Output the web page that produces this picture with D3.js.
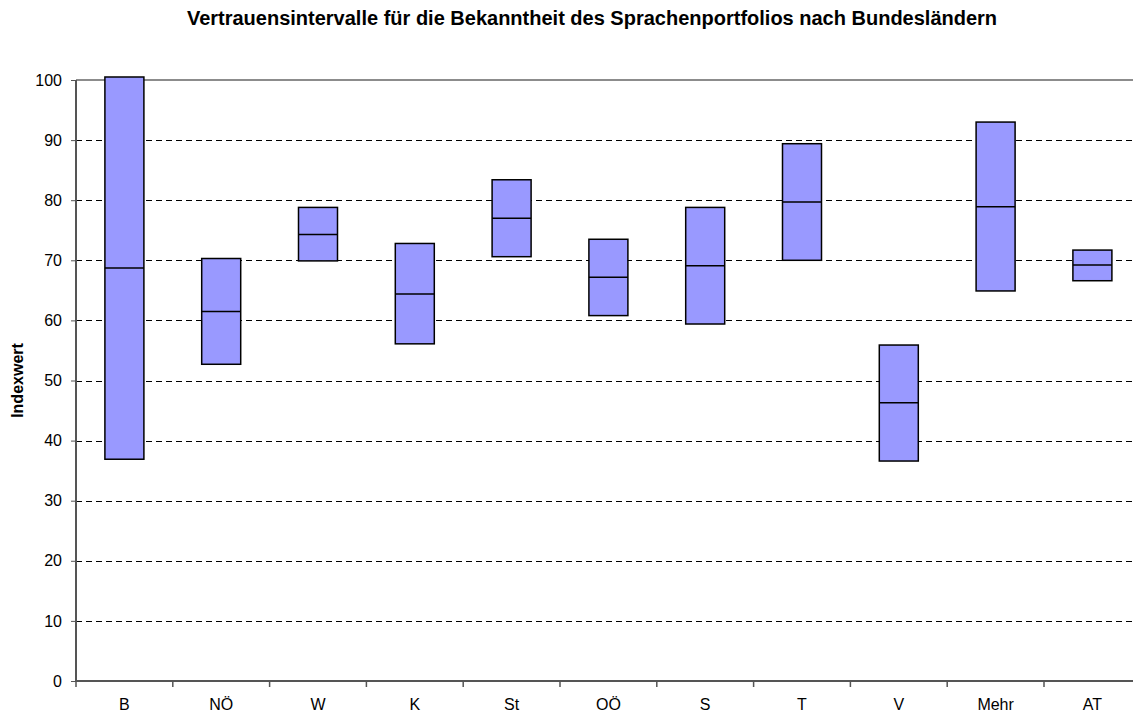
<!DOCTYPE html>
<html>
<head>
<meta charset="utf-8">
<script src="https://cdn.jsdelivr.net/npm/d3@7"></script>
<style>
  html, body { margin: 0; padding: 0; background: #fff; }
  svg { display: block; font-family: "Liberation Sans", Arial, sans-serif; }
</style>
</head>
<body>
<svg id="chart" width="1133" height="713"></svg>
<script>
const categories = ["B", "NÖ", "W", "K", "St", "OÖ", "S", "T", "V", "Mehr", "AT"];
const upper  = [100.5, 70.3, 78.8, 72.8, 83.4, 73.5, 78.8, 89.4, 55.9, 93.0, 71.7];
const middle = [68.7, 61.5, 74.3, 64.4, 77.0, 67.2, 69.1, 79.7, 46.3, 78.9, 69.2];
const lower  = [36.9, 52.7, 69.9, 56.1, 70.6, 60.8, 59.4, 70.0, 36.6, 64.9, 66.6];
const yTicks = [0, 10, 20, 30, 40, 50, 60, 70, 80, 90, 100];
const title = "Vertrauensintervalle für die Bekanntheit des Sprachenportfolios nach Bundesländern";
const yTitle = "Indexwert";

(function () {
const svg = d3.select("#chart");
const mLeft = 76, mTop = 80, mBottom = 681, bandW = 96.8;
const mRight = mLeft + categories.length * bandW;

const x = d3.scaleBand().domain(categories).range([mLeft, mRight]).paddingInner(0).paddingOuter(0);
const y = d3.scaleLinear().domain([0, 100]).range([mBottom, mTop]);

// title
svg.append("text").attr("x", 592).attr("y", 25).attr("text-anchor", "middle")
  .attr("font-size", 20).attr("font-weight", "bold").text(title);

// gridlines
svg.append("g").selectAll("line").data(yTicks.filter(d => d > 0 && d < 100)).join("line")
  .attr("x1", mLeft).attr("x2", 1133)
  .attr("y1", d => Math.round(y(d)) + 0.5).attr("y2", d => Math.round(y(d)) + 0.5)
  .attr("stroke", "#000").attr("stroke-width", 1).attr("stroke-dasharray", "6,4");
svg.append("line").attr("x1", mLeft).attr("x2", 1133)
  .attr("y1", y(100)).attr("y2", y(100))
  .attr("stroke", "#8c8c8c").attr("stroke-width", 2);

// y axis
const yAxis = d3.axisLeft(y).tickValues(yTicks).tickSize(5).tickPadding(9);
const gy = svg.append("g").attr("transform", `translate(${mLeft},0)`).call(yAxis);
gy.select(".domain").attr("stroke", "#555").attr("stroke-width", 2).attr("d", `M0,${y(100)}V${mBottom}`);
gy.selectAll(".tick line").attr("stroke", "#555");
gy.selectAll(".tick text").attr("font-size", 16).attr("fill", "#000").attr("font-family", "Liberation Sans, Arial, sans-serif");

// x axis
const xAxis = d3.axisBottom(x).tickSize(0).tickPadding(18);
const gx = svg.append("g").attr("transform", `translate(0,${mBottom})`).call(xAxis);
gx.select(".domain").attr("stroke", "#555").attr("stroke-width", 2).attr("d", `M${mLeft},0H1133`);
gx.selectAll(".tick text").attr("font-size", 16).attr("fill", "#000").attr("font-family", "Liberation Sans, Arial, sans-serif");
svg.append("g").selectAll("line").data(categories).join("line")
  .attr("x1", d => x(d)).attr("x2", d => x(d))
  .attr("y1", mBottom).attr("y2", mBottom + 6)
  .attr("stroke", "#555").attr("stroke-width", 1.5);

// y title
svg.append("text").attr("transform", `translate(23,${(mTop + mBottom) / 2}) rotate(-90)`)
  .attr("text-anchor", "middle").attr("font-size", 16).attr("font-weight", "bold").text(yTitle);

// boxes
const boxW = 39;
const data = categories.map((c, i) => ({ c, lo: lower[i], mid: middle[i], hi: upper[i] }));
const g = svg.append("g");
g.selectAll("rect").data(data).join("rect")
  .attr("x", d => x(d.c) + x.bandwidth() / 2 - boxW / 2)
  .attr("width", boxW)
  .attr("y", d => y(d.hi))
  .attr("height", d => y(d.lo) - y(d.hi))
  .attr("fill", "#9999ff").attr("stroke", "#000").attr("stroke-width", 1.5);
g.selectAll("line.mid").data(data).join("line").attr("class", "mid")
  .attr("x1", d => x(d.c) + x.bandwidth() / 2 - boxW / 2)
  .attr("x2", d => x(d.c) + x.bandwidth() / 2 + boxW / 2)
  .attr("y1", d => y(d.mid)).attr("y2", d => y(d.mid))
  .attr("stroke", "#000").attr("stroke-width", 1.5);
})();
</script>
</body>
</html>
